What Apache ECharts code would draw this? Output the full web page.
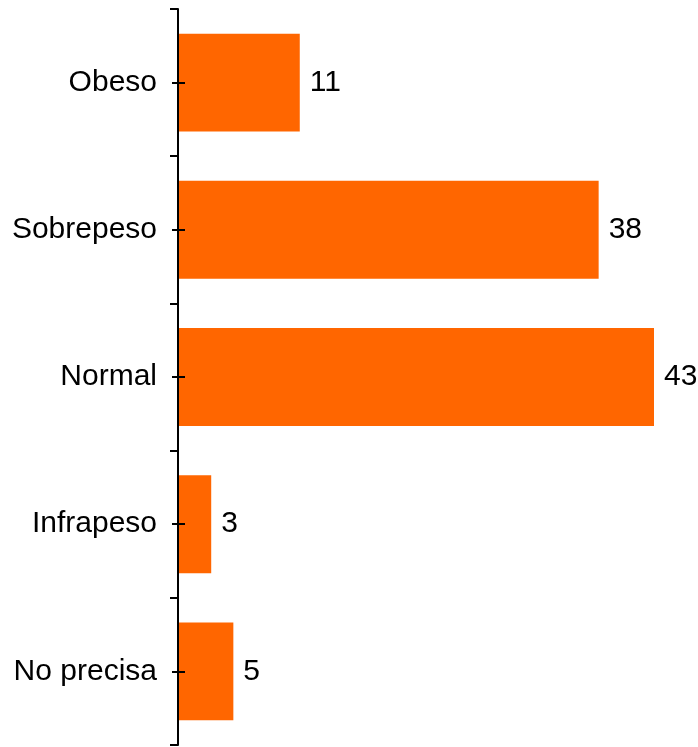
<!DOCTYPE html>
<html lang="es">
<head>
    <meta charset="UTF-8">
    <title>IMC</title>
    <script src="https://cdn.jsdelivr.net/npm/echarts@6/dist/echarts.min.js"></script>
    <style>
        html, body { margin: 0; padding: 0; background: #fff; }
        #chart { width: 698px; height: 747px; }
    </style>
</head>
<body>
<div id="chart"></div>
<script>
    // categories bottom -> top
    var categories = ['No precisa', 'Infrapeso', 'Normal', 'Sobrepeso', 'Obeso'];
    var values = [5, 3, 43, 38, 11];

    var font = 'Liberation Sans, Arial, sans-serif';
    var chart = echarts.init(document.getElementById('chart'));

    // extra y axes only to draw the small ticks crossing the axis at each label
    function tickAxis(inside, len) {
        return {
            type: 'category',
            data: categories,
            position: 'left',
            z: 5,
            axisLine: { show: false },
            axisLabel: { show: false },
            axisTick: { show: true, alignWithLabel: true, inside: inside, length: len,
                lineStyle: { color: '#000', width: 2 } },
            splitLine: { show: false }
        };
    }

    var option = {
        animation: false,
        grid: { left: 178, right: 44, top: 9, bottom: 2, containLabel: false },
        xAxis: {
            type: 'value',
            min: 0,
            max: 43,
            show: false
        },
        yAxis: [
            {
                type: 'category',
                data: categories,
                position: 'left',
                z: 5,
                axisLine: { show: true, lineStyle: { color: '#000', width: 2 } },
                axisTick: { show: true, inside: false, length: 8, lineStyle: { color: '#000', width: 2 } },
                axisLabel: { color: '#000', fontSize: 30, fontFamily: font, margin: 21 },
                splitLine: { show: false }
            },
            tickAxis(false, 6),
            tickAxis(true, 7)
        ],
        series: [{
            type: 'bar',
            data: values,
            barWidth: '66.5%',
            itemStyle: { color: '#FF6600' },
            label: {
                show: true,
                position: 'right',
                distance: 10,
                color: '#000',
                fontSize: 30,
                fontFamily: font
            }
        }]
    };
    chart.setOption(option);
</script>
</body>
</html>
